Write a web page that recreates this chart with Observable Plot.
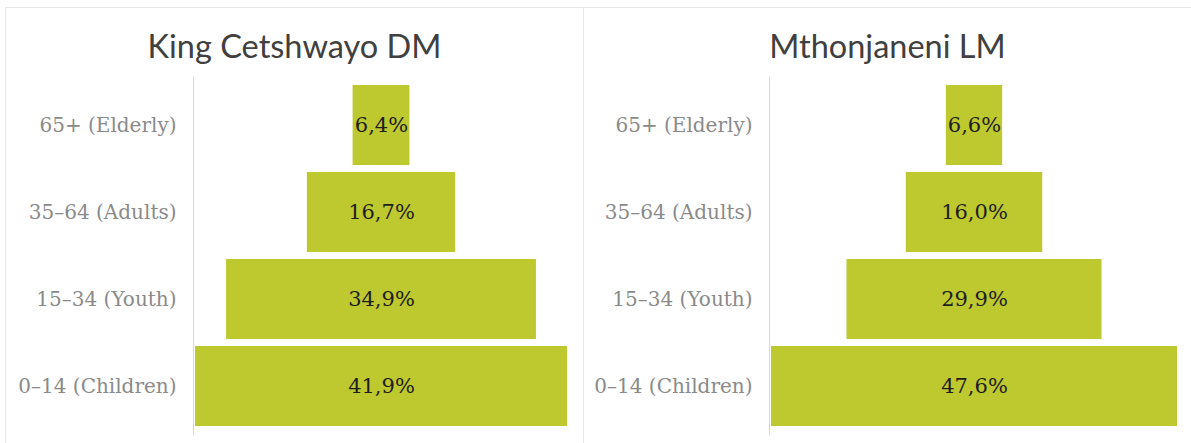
<!DOCTYPE html>
<html>
<head>
<meta charset="utf-8">
<script src="https://cdn.jsdelivr.net/npm/d3@7"></script>
<script src="https://cdn.jsdelivr.net/npm/@observablehq/plot@0.6"></script>
<style>
  html, body { margin: 0; padding: 0; background: #ffffff; }
  #chart { position: relative; width: 1191px; height: 443px; overflow: hidden; background: #fff; }
  .panel { position: absolute; top: 7px; height: 436px; border-top: 1px solid #e8e8e8; border-left: 1px solid #e8e8e8; box-sizing: border-box; }
  .title { position: absolute; left: 0; right: 0; top: 18px; text-align: center; font-family: Lato, "Open Sans", sans-serif; font-size: 32.5px; color: #404040; line-height: 40px; }
  .plot { position: absolute; left: 0; top: 63px; }
</style>
</head>
<body>
<div id="chart"></div>
<script>
const categories = ["65+ (Elderly)", "35–64 (Adults)", "15–34 (Youth)", "0–14 (Children)"];
const titles = ["King Cetshwayo DM", "Mthonjaneni LM"];
const kingCetshwayoValues = [6.4, 16.7, 34.9, 41.9];
const mthonjaneniValues = [6.6, 16.0, 29.9, 47.6];

const panels = [
  {title: titles[0], values: kingCetshwayoValues, left: 5, width: 578, marginLeft: 189, marginRight: 16},
  {title: titles[1], values: mthonjaneniValues, left: 583, width: 608, marginLeft: 187, marginRight: 14}
];

const chart = document.getElementById("chart");
const fmt = v => v.toFixed(1).replace(".", ",") + "%";

for (const p of panels) {
  const div = document.createElement("div");
  div.className = "panel";
  div.style.left = p.left + "px";
  div.style.width = p.width + "px";
  const t = document.createElement("div");
  t.className = "title";
  t.textContent = p.title;
  div.appendChild(t);

  const data = categories.map((c, i) => ({cat: c, v: p.values[i]}));
  const max = d3.max(p.values);
  const svg = Plot.plot({
    width: p.width - 1,
    height: 373,
    marginLeft: p.marginLeft,
    marginRight: p.marginRight,
    marginTop: 6,
    marginBottom: 9,
    x: {axis: null, domain: [-max / 2, max / 2]},
    y: {domain: categories, padding: 0.08, axis: null},
    style: {background: "transparent", overflow: "visible"},
    marks: [
      Plot.ruleX([-max / 2], {dx: -2, stroke: "#d9d9d9", strokeWidth: 1}),
      Plot.barX(data, {x1: d => -d.v / 2, x2: d => d.v / 2, y: "cat", fill: "#bec82f"}),
      Plot.axisY({tickSize: 0, tickPadding: 19, label: null, fontSize: 20, fontFamily: "DejaVu Serif, serif", fill: "#8a8a8a"}),
      Plot.text(data, {x: d => 0, y: "cat", text: d => fmt(d.v), fontSize: 21, fontFamily: "DejaVu Serif, serif", fill: "#1e1e1e"})
    ]
  });
  svg.classList.add("plot");
  svg.style.position = "absolute";
  div.appendChild(svg);
  chart.appendChild(div);
}
</script>
</body>
</html>
